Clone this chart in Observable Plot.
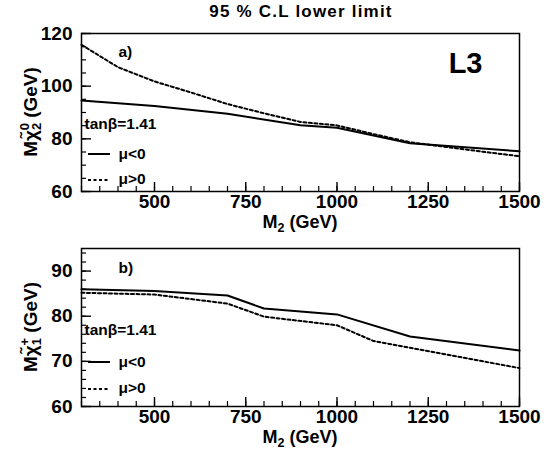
<!DOCTYPE html>
<html><head><meta charset="utf-8">
<script src="https://cdn.jsdelivr.net/npm/d3@7"></script>
<script src="https://cdn.jsdelivr.net/npm/@observablehq/plot@0.6"></script>
<style>
body{margin:0;background:#fff;}
#wrap{position:relative;width:550px;height:462px;font-family:"Liberation Sans",Arial,Helvetica,sans-serif;background:#fff;}
#title{position:absolute;left:0;width:602px;top:3px;text-align:center;font-weight:bold;font-size:17px;line-height:17px;letter-spacing:1.2px;}
.panel{position:absolute;left:0;}
</style></head>
<body><div id="wrap"><div id="title">95 % C.L lower limit</div></div>
<script>
// ---- data ----
const xDomain = [300, 1500];
const xMajorTicks = [500, 750, 1000, 1250, 1500];

// panel a) : neutralino chi2^0
const aNegM2 = [300, 500, 700, 900, 1000, 1200, 1500];
const aNegMass = [94.6, 92.5, 89.5, 85.2, 84.2, 78.3, 75.3];
const aPosM2 = [300, 400, 500, 600, 700, 800, 900, 1000, 1100, 1200, 1300, 1400, 1500];
const aPosMass = [115.7, 107.2, 101.8, 97.6, 93.2, 89.7, 86.4, 85.1, 81.8, 78.7, 76.9, 75.1, 73.4];
const aYTicks = [60, 80, 100, 120];

// panel b) : chargino chi1^+
const bNegM2 = [300, 500, 700, 800, 1000, 1200, 1500];
const bNegMass = [86.0, 85.6, 84.6, 81.7, 80.4, 75.5, 72.4];
const bPosM2 = [300, 500, 700, 800, 1000, 1100, 1500];
const bPosMass = [85.2, 84.8, 82.8, 79.9, 78.0, 74.5, 68.5];
const bYTicks = [60, 70, 80, 90];

const legendText = ["tanβ=1.41", "μ<0", "μ>0"];

// ---- drawing ----
const FONT = '"Liberation Sans", Arial, Helvetica, sans-serif';
const W = 550, ML = 81, MR = 31;

function range(a, b, s) { const r = []; for (let v = a; v <= b + 1e-9; v += s) r.push(+v.toFixed(6)); return r; }

function panel(o) {
  const frameW = W - ML - MR;
  const frameH = o.height - o.mt - o.mb;
  const neg = o.negX.map((x, i) => ({x, y: o.negY[i]}));
  const pos = o.posX.map((x, i) => ({x, y: o.posY[i]}));
  const svg = Plot.plot({
    width: W, height: o.height,
    marginLeft: ML, marginRight: MR, marginTop: o.mt, marginBottom: o.mb,
    style: {fontFamily: FONT, fontWeight: "bold", color: "black", background: "transparent", overflow: "visible"},
    x: {domain: xDomain},
    y: {domain: o.yDomain},
    marks: [
      Plot.tickX(range(300, 1500, 50), {x: d => d, insetTop: frameH - 5, stroke: "black", strokeWidth: 1.2}),
      Plot.tickX(xMajorTicks, {x: d => d, insetTop: frameH - 9, stroke: "black", strokeWidth: 1.4}),
      Plot.tickY(range(o.yDomain[0], o.yDomain[1], o.yMinorStep), {y: d => d, insetRight: frameW - 5, stroke: "black", strokeWidth: 1.2}),
      Plot.tickY(o.yTicks, {y: d => d, insetRight: frameW - 10, stroke: "black", strokeWidth: 1.4}),
      Plot.line(neg, {x: "x", y: "y", stroke: "black", strokeWidth: 2}),
      Plot.line(pos, {x: "x", y: "y", stroke: "black", strokeWidth: 2, strokeDasharray: "3,2.5"}),
      Plot.frame({stroke: "black", strokeWidth: 1.5}),
      Plot.axisX({ticks: xMajorTicks, tickFormat: d => String(d), tickSize: 0, tickPadding: 3, label: null, fontSize: 19, fontWeight: "bold"}),
      Plot.axisY({ticks: o.yTicks, tickFormat: d => String(d), tickSize: 0, tickPadding: 9, label: null, fontSize: 19, fontWeight: "bold"}),
      Plot.text([o.tag], {frameAnchor: "top-left", dx: 37, dy: o.tagDy, text: d => d, textAnchor: "start", lineAnchor: "bottom", fontSize: 15.5, fontWeight: "bold"}),
      Plot.text([legendText[0]], {frameAnchor: "top-left", dx: 3, dy: o.legDy, text: d => d, textAnchor: "start", lineAnchor: "bottom", fontSize: 15.5, fontWeight: "bold"}),
      Plot.text([legendText[1]], {frameAnchor: "top-left", dx: 37, dy: o.legDy + o.legStep1 + 4, text: d => d, textAnchor: "start", lineAnchor: "bottom", fontSize: 15.5, fontWeight: "bold"}),
      Plot.text([legendText[2]], {frameAnchor: "top-left", dx: 37, dy: o.legDy + o.legStep2 + 3, text: d => d, textAnchor: "start", lineAnchor: "bottom", fontSize: 15.5, fontWeight: "bold"}),
      ...(o.l3 ? [Plot.text(["L3"], {frameAnchor: "top-right", dx: -37, dy: 39, text: d => d, textAnchor: "end", lineAnchor: "bottom", fontSize: 29, fontWeight: "bold"})] : [])
    ]
  });
  svg.classList.add("panel");
  svg.style.top = o.top + "px";
  const s = d3.select(svg);
  const fl = ML, ft = o.mt, fb = o.height - o.mb;
  // legend glyphs
  s.append("line").attr("x1", fl + 7).attr("x2", fl + 29).attr("y1", ft + o.legDy + o.legStep1).attr("y2", ft + o.legDy + o.legStep1)
    .attr("stroke", "black").attr("stroke-width", 2);
  s.append("line").attr("x1", fl + 7).attr("x2", fl + 29).attr("y1", ft + o.legDy + o.legStep2).attr("y2", ft + o.legDy + o.legStep2)
    .attr("stroke", "black").attr("stroke-width", 2).attr("stroke-dasharray", "3,2.5");
  // y title
  const t = s.append("text").attr("transform", `translate(37,${(ft + fb) / 2}) rotate(-90)`)
    .attr("text-anchor", "middle").attr("font-size", 19).attr("font-weight", "bold").attr("font-family", FONT).attr("fill", "black");
  t.append("tspan").text("M");
  t.append("tspan").text("χ\u0303");
  t.append("tspan").attr("font-size", 13).attr("dy", 4).text(o.sub);
  t.append("tspan").attr("font-size", 13).attr("dx", -7.5).attr("dy", -12).text(o.sup);
  t.append("tspan").attr("dy", 8).text(" (GeV)");
  // x title
  const xt = s.append("text").attr("x", 300).attr("y", fb + 37).attr("text-anchor", "middle")
    .attr("font-size", 18).attr("font-weight", "bold").attr("font-family", FONT).attr("fill", "black");
  xt.append("tspan").text("M");
  xt.append("tspan").attr("font-size", 12.5).attr("dy", 4).text("2");
  xt.append("tspan").attr("dy", -4).text(" (GeV)");
  document.getElementById("wrap").appendChild(svg);
}

panel({top: 20, height: 216, mt: 13, mb: 45, yDomain: [60, 120], yMinorStep: 5, yTicks: aYTicks,
  negX: aNegM2, negY: aNegMass, posX: aPosM2, posY: aPosMass, tag: "a)", tagDy: 23,
  legDy: 95, legStep1: 26, legStep2: 52, l3: true, sub: "2", sup: "0"});
panel({top: 236, height: 226, mt: 12, mb: 56, yDomain: [60, 95], yMinorStep: 2, yTicks: bYTicks,
  negX: bNegM2, negY: bNegMass, posX: bPosM2, posY: bPosMass, tag: "b)", tagDy: 24,
  legDy: 86, legStep1: 28, legStep2: 55, l3: false, sub: "1", sup: "+"});
</script>
</body></html>
